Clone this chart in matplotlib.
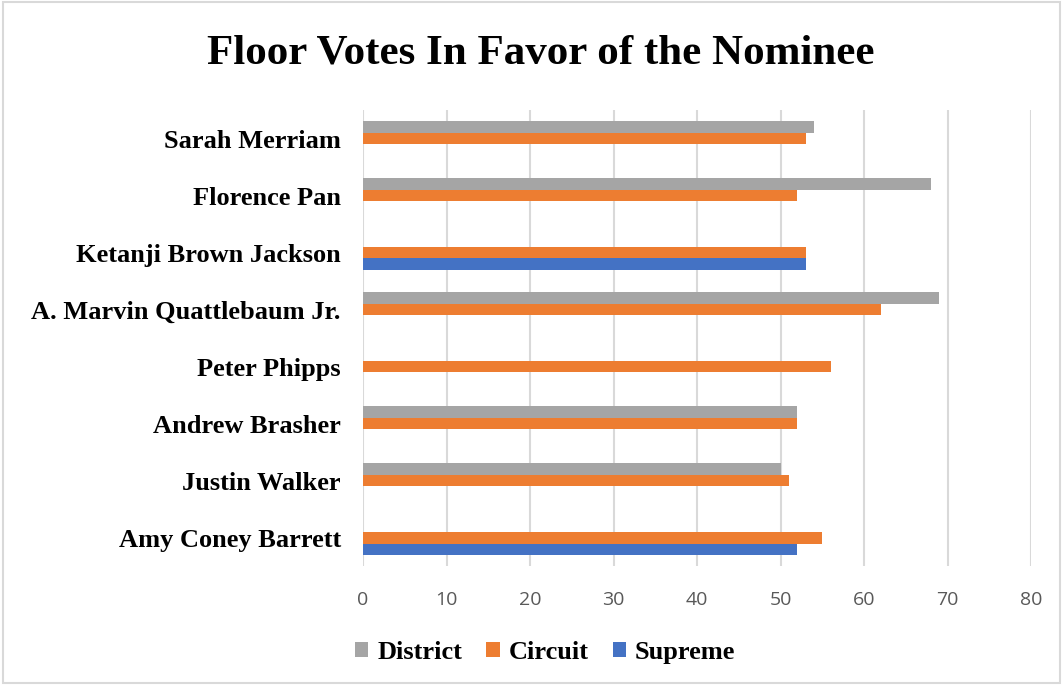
import numpy as np
import matplotlib.pyplot as plt
from matplotlib.patches import Rectangle

# nominees, bottom to top as they appear on the chart
nominees = ["Amy Coney Barrett", "Justin Walker", "Andrew Brasher", "Peter Phipps",
            "A. Marvin Quattlebaum Jr.", "Ketanji Brown Jackson", "Florence Pan", "Sarah Merriam"]
district = [np.nan, 50, 52, np.nan, 69, np.nan, 68, 54]
circuit = [55, 51, 52, 56, 62, 53, 52, 53]
supreme = [52, np.nan, np.nan, np.nan, np.nan, 53, np.nan, np.nan]

gray = "#a5a5a5"
orange = "#ed7d31"
blue = "#4472c4"

fig = plt.figure(figsize=(10.63, 6.85), dpi=100)
ax = fig.add_axes([0.3415, 0.1737, 0.6284, 0.6657])

y = np.arange(len(nominees))
h = 0.21
ax.barh(y + h, district, height=h, color=gray, label="District", zorder=3)
ax.barh(y, circuit, height=h, color=orange, label="Circuit", zorder=3)
ax.barh(y - h, supreme, height=h, color=blue, label="Supreme", zorder=3)

ax.set_xlim(0, 80)
ax.set_ylim(-0.5, len(nominees) - 0.5)
ax.set_xticks(range(0, 81, 10))
ax.set_yticks(y)
ax.set_yticklabels(nominees, fontfamily="Liberation Serif", fontweight="bold", fontsize=19)
ax.tick_params(axis="y", length=0, pad=16)
ax.tick_params(axis="x", length=0, labelsize=14, labelcolor="#595959", pad=18)
for lbl in ax.get_xticklabels():
    lbl.set_fontfamily("Open Sans")
ax.grid(axis="x", color="#d9d9d9", linewidth=1.5, zorder=0)
for s in ax.spines.values():
    s.set_visible(False)

fig.text(0.509, 0.922, "Floor Votes In Favor of the Nominee", ha="center", va="center",
         fontfamily="Liberation Serif", fontweight="bold", fontsize=31)

fig.legend(loc="center", bbox_to_anchor=(0.513, 0.048), ncol=3, frameon=False,
           prop={"family": "Liberation Serif", "weight": "bold", "size": 19},
           handlelength=0.5, handleheight=0.5, handletextpad=0.35, columnspacing=0.9)

# light frame around the whole chart
fig.patches.append(Rectangle((0.003, 0.003), 0.994, 0.994, transform=fig.transFigure,
                             fill=False, edgecolor="#d9d9d9", linewidth=1.5))

fig.savefig("out.png", dpi=100)
